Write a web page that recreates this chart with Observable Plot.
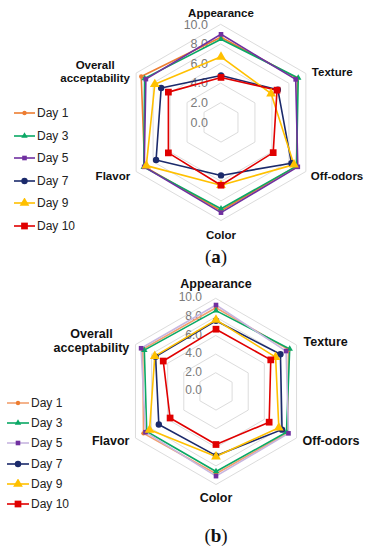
<!DOCTYPE html>
<html>
<head>
<meta charset="utf-8">
<script src="https://cdn.jsdelivr.net/npm/d3@7"></script>
<script src="https://cdn.jsdelivr.net/npm/@observablehq/plot@0.6"></script>
<style>
  body { margin: 0; background: #fff; }
  #page { position: relative; width: 365px; height: 550px; overflow: hidden; font-family: "Liberation Sans", Arial, sans-serif; }
  .chart { position: absolute; left: 0; }
  .legend { position: absolute; }
  .legend .item { display: flex; align-items: center; height: 22px; color: #222; }
  .panel { position: absolute; font-family: "Liberation Serif", "Times New Roman", serif; font-size: 19px; color: #111; transform: translate(-50%, -50%); }
</style>
</head>
<body>
<div id="page"></div>
<script>
// ---- data ----
const axes = ["Appearance", "Texture", "Off-odors", "Color", "Flavor", "Overall acceptability"];
const days = ["Day 1", "Day 3", "Day 5", "Day 7", "Day 9", "Day 10"];
const tickValues = [0, 2, 4, 6, 8, 10];
const tickLabels = ["0.0", "2.0", "4.0", "6.0", "8.0", "10.0"];
const ringValues = [2, 4, 6, 8, 10];

// panel (a)
const aDay1  = [8.7, 9.0, 8.9, 9.0, 9.0, 9.4];
const aDay3  = [8.5, 9.1, 8.9, 8.8, 9.1, 9.0];
const aDay5  = [9.0, 8.8, 9.05, 9.2, 9.05, 8.85];
const aDay7  = [4.8, 6.7, 8.3, 5.4, 7.65, 7.05];
const aDay9  = [6.7, 5.9, 8.6, 6.4, 8.8, 7.8];
const aDay10 = [4.6, 6.6, 6.15, 6.4, 6.2, 6.2];

// panel (b)
const bDay1  = [9.0, 9.0, 8.9, 8.85, 9.0, 9.1];
const bDay3  = [8.7, 9.15, 8.75, 8.6, 8.6, 8.9];
const bDay5  = [9.3, 8.7, 9.0, 9.1, 8.75, 9.3];
const bDay7  = [7.6, 8.0, 8.2, 6.9, 7.1, 7.5];
const bDay9  = [7.7, 7.4, 7.8, 7.0, 8.25, 7.6];
const bDay10 = [6.7, 6.8, 6.6, 5.7, 5.7, 6.55];

// ---- styles ----
const markerColors = ["#ED7D31", "#0AA865", "#7030A0", "#1B2A6B", "#FFC000", "#E00000"];
const lineColorsA  = ["#ED7D31", "#0AA865", "#7030A0", "#1B2A6B", "#FFC000", "#E00000"];
const lineColorsB  = ["#F2A070", "#0AA865", "#C7B6E0", "#1B2A6B", "#FFC000", "#E00000"];
const symbols = ["circle", "triangle", "square", "circle", "triangle", "square"];
const radii   = [2.2, 2.4, 2.6, 3.2, 3.6, 3.8];

const page = document.getElementById("page");

function polar(i, v) {
  const t = i * Math.PI / 3;
  return {x: v * Math.sin(t), y: v * Math.cos(t)};
}

function radar(cfg) {
  const {series, cx, cy, R, top, height, fs, tickFs, lineColors, lab} = cfg;
  const rows = [];
  series.forEach((vals, s) => vals.forEach((v, i) => rows.push({day: days[s], s, i, v, ...polar(i, v)})));
  const rings = [];
  ringValues.forEach(r => axes.forEach((a, i) => rings.push({r, ...polar(i, r)})));
  const ticks = tickValues.map((v, k) => ({v, label: tickLabels[k]}));
  const labels = axes.map((a, i) => ({a, i, ...polar(i, 10)}));

  const marks = [
    Plot.line(rings, {x: "x", y: "y", z: "r", curve: "linear-closed", stroke: "#dcdcdc", strokeWidth: 1}),
    Plot.text(ticks, {x: 0, y: "v", text: "label", textAnchor: "end", dx: cfg.tickDx, dy: cfg.tickDy, fill: "#7a7a7a", fontSize: tickFs})
  ];
  days.forEach((d, s) => {
    const data = rows.filter(r => r.s === s);
    marks.push(Plot.line(data, {x: "x", y: "y", curve: "linear-closed", stroke: lineColors[s], strokeWidth: 1.6}));
  });
  days.forEach((d, s) => {
    const data = rows.filter(r => r.s === s);
    marks.push(Plot.dot(data, {x: "x", y: "y", symbol: symbols[s], r: radii[s], fill: markerColors[s], stroke: "none"}));
  });
  // axis labels
  axes.forEach((a, i) => {
    const o = lab[i];
    marks.push(Plot.text(labels.filter(l => l.i === i), {
      x: "x", y: "y", text: d => d.a.length > 12 ? d.a.replace(" ", "\n") : d.a,
      textAnchor: o[2], dx: o[0], dy: o[1], fontWeight: "bold", fontSize: fs, fill: "#111", lineHeight: 1.12
    }));
  });

  const svg = Plot.plot({
    width: 365, height, margin: 0,
    x: {domain: [-10, 10], range: [cx - R, cx + R], axis: null},
    y: {domain: [-10, 10], range: [cy + R, cy - R], axis: null},
    style: {fontFamily: '"Liberation Sans", Arial, sans-serif', background: "transparent"},
    marks
  });
  svg.classList.add("chart");
  svg.style.top = top + "px";
  page.appendChild(svg);
}

function legend(cfg) {
  const {left, top, gap, lineColors, fs, len} = cfg;
  const div = document.createElement("div");
  div.className = "legend";
  div.style.left = left + "px";
  div.style.top = top + "px";
  days.forEach((d, s) => {
    const item = document.createElement("div");
    item.className = "item";
    item.style.height = gap + "px";
    item.style.fontSize = fs + "px";
    const sw = d3.create("svg").attr("width", len).attr("height", 10).style("margin-right", "2px");
    sw.append("line").attr("x1", 0).attr("x2", len).attr("y1", 5).attr("y2", 5)
      .attr("stroke", lineColors[s]).attr("stroke-width", 1.6);
    const sym = {circle: d3.symbolCircle, triangle: d3.symbolTriangle, square: d3.symbolSquare}[symbols[s]];
    sw.append("path").attr("transform", `translate(${len / 2},5)`)
      .attr("d", d3.symbol(sym, Math.PI * radii[s] * radii[s])())
      .attr("fill", markerColors[s]);
    item.appendChild(sw.node());
    const t = document.createElement("span");
    t.textContent = d;
    item.appendChild(t);
    div.appendChild(item);
  });
  page.appendChild(div);
}

function panelLabel(letter, x, y) {
  const el = document.createElement("div");
  el.className = "panel";
  el.style.left = x + "px";
  el.style.top = y + "px";
  el.innerHTML = `(<b>${letter}</b>)`;
  page.appendChild(el);
}

// panel (a)
radar({
  series: [aDay1, aDay3, aDay5, aDay7, aDay9, aDay10],
  cx: 220.5, cy: 122, R: 98, top: 0, height: 245, fs: 11.5, tickFs: 12.5,
  tickDx: -13, tickDy: 0, lineColors: lineColorsA,
  lab: [[0, -12, "middle"], [6, -2, "start"], [5, 4, "start"], [0, 14, "middle"], [-6, 4, "end"], [-41, -2, "middle"]]
});
legend({left: 14, top: 102, gap: 22.5, lineColors: lineColorsA, fs: 12, len: 21});
panelLabel("a", 216, 257);

// panel (b)
radar({
  series: [bDay1, bDay3, bDay5, bDay7, bDay9, bDay10],
  cx: 215.5, cy: 121, R: 93, top: 270, height: 240, fs: 12.5, tickFs: 12,
  tickDx: -14, tickDy: -1, lineColors: lineColorsB,
  lab: [[0, -14.5, "middle"], [7, -3.5, "start"], [6, 2.5, "start"], [0, 13.5, "middle"], [-6, 2.5, "end"], [-44, -4, "middle"]]
});
legend({left: 7, top: 392.5, gap: 20.3, lineColors: lineColorsB, fs: 12, len: 22});
panelLabel("b", 216, 536);
</script>
</body>
</html>
